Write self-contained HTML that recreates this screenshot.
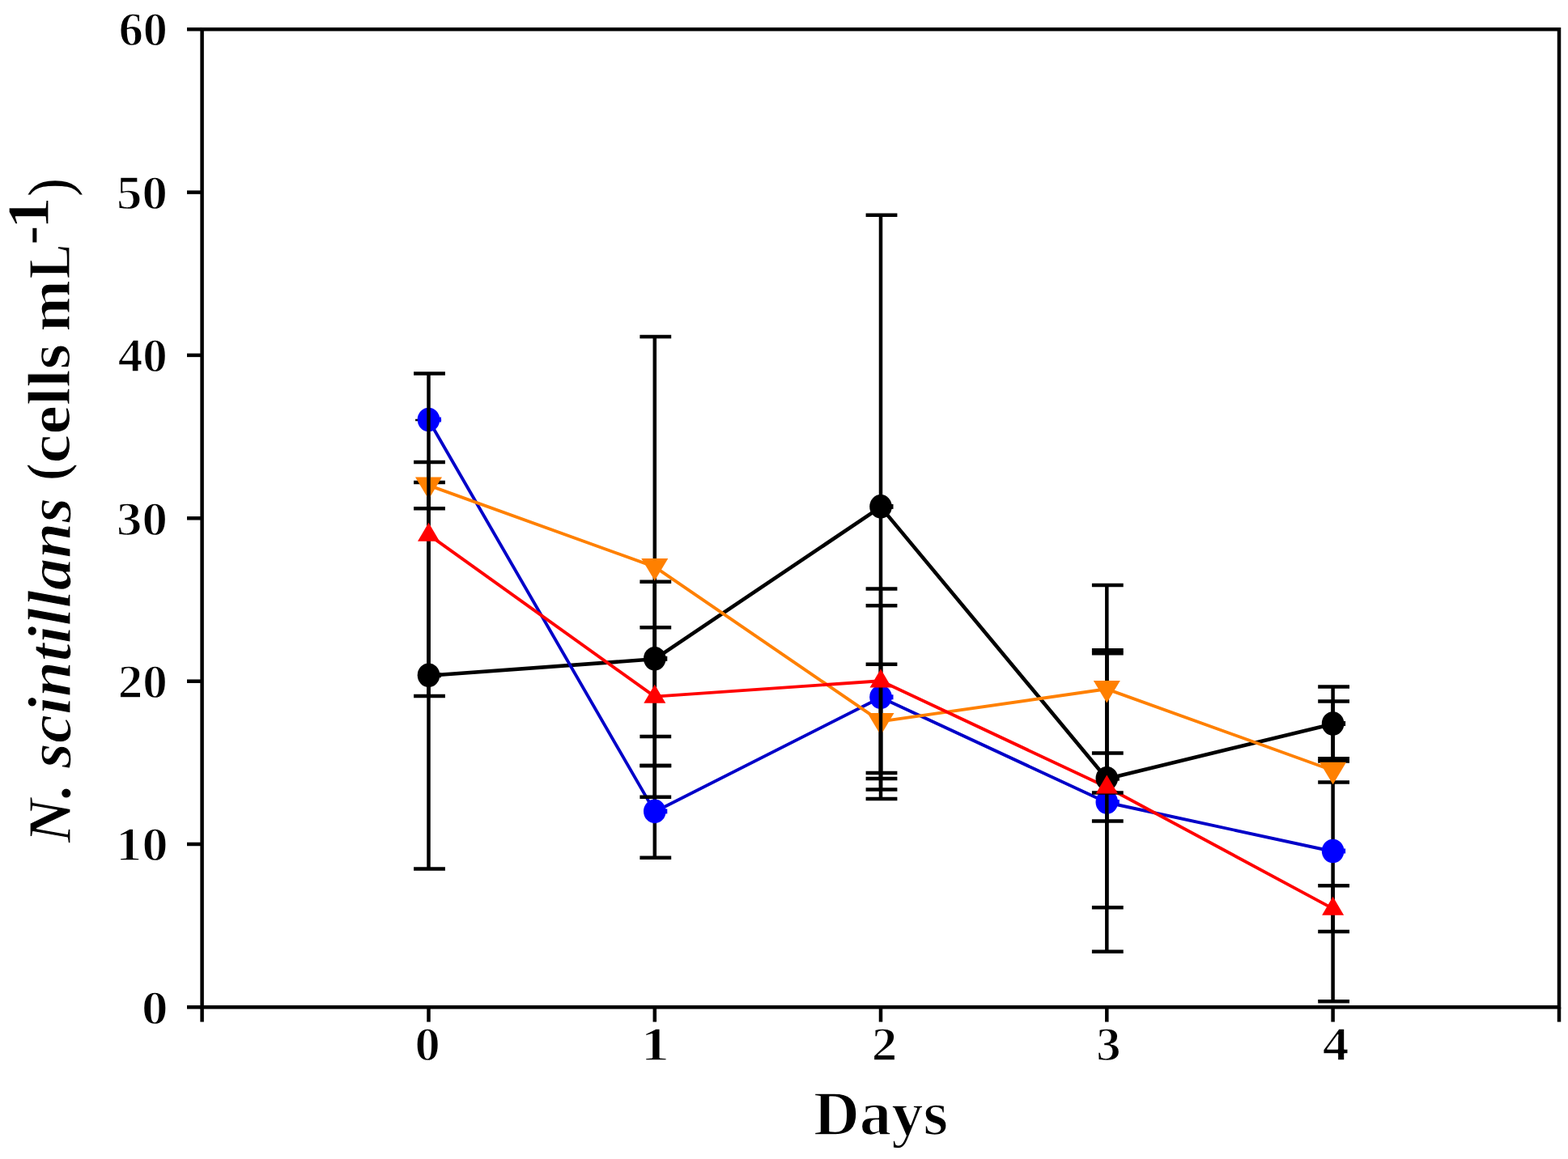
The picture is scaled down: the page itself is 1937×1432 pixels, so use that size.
<!DOCTYPE html>
<html><head><meta charset="utf-8"><title>N. scintillans (cells mL-1) vs Days</title>
<style>
html,body{margin:0;padding:0;background:#fff;overflow:hidden;}
svg{display:block;}
.t text{font-family:"Liberation Serif", "Times New Roman", serif;fill:#000;stroke-linejoin:round;}
</style></head><body>
<svg width="1937" height="1432" viewBox="0 0 1937 1432">
<rect width="1937" height="1432" fill="#fff"/>
<g id="lines">
<polyline points="529.5,834.7 808.8,814.3 1088.0,626.4 1367.3,962.2 1646.6,894.5" fill="none" stroke="#000000" stroke-width="4.6" stroke-linejoin="round"/>
<polyline points="529.5,519.0 808.8,1002.9 1088.0,861.8 1367.3,991.5 1646.6,1052.0" fill="none" stroke="#0000c8" stroke-width="3.9" stroke-linejoin="round"/>
<polyline points="529.5,599.7 808.8,700.4 1088.0,891.4 1367.3,851.3 1646.6,952.0" fill="none" stroke="#ff8000" stroke-width="3.9" stroke-linejoin="round"/>
<polyline points="529.5,660.7 808.8,860.6 1088.0,841.3 1367.3,972.5 1646.6,1122.6" fill="none" stroke="#ff0000" stroke-width="3.9" stroke-linejoin="round"/>
</g><g id="points">
<line x1="529.5" y1="596.0" x2="529.5" y2="1073.4" stroke="#000" stroke-width="4.5"/>
<line x1="511.1" y1="596.0" x2="549.9" y2="596.0" stroke="#000" stroke-width="4.5"/>
<line x1="511.1" y1="1073.4" x2="549.9" y2="1073.4" stroke="#000" stroke-width="4.5"/>
<line x1="808.8" y1="718.7" x2="808.8" y2="909.9" stroke="#000" stroke-width="4.5"/>
<line x1="790.4" y1="718.7" x2="829.2" y2="718.7" stroke="#000" stroke-width="4.5"/>
<line x1="790.4" y1="909.9" x2="829.2" y2="909.9" stroke="#000" stroke-width="4.5"/>
<line x1="1088.0" y1="265.7" x2="1088.0" y2="987.1" stroke="#000" stroke-width="4.5"/>
<line x1="1069.6" y1="265.7" x2="1108.4" y2="265.7" stroke="#000" stroke-width="4.5"/>
<line x1="1069.6" y1="987.1" x2="1108.4" y2="987.1" stroke="#000" stroke-width="4.5"/>
<line x1="1367.3" y1="803.2" x2="1367.3" y2="1121.2" stroke="#000" stroke-width="4.5"/>
<line x1="1348.9" y1="803.2" x2="1387.7" y2="803.2" stroke="#000" stroke-width="4.5"/>
<line x1="1348.9" y1="1121.2" x2="1387.7" y2="1121.2" stroke="#000" stroke-width="4.5"/>
<line x1="1646.6" y1="848.4" x2="1646.6" y2="940.6" stroke="#000" stroke-width="4.5"/>
<line x1="1628.2" y1="848.4" x2="1667.0" y2="848.4" stroke="#000" stroke-width="4.5"/>
<line x1="1628.2" y1="940.6" x2="1667.0" y2="940.6" stroke="#000" stroke-width="4.5"/>
<ellipse cx="529.5" cy="834.2" rx="13.8" ry="14.8" fill="#000000"/>
<rect x="541.5" y="831.2" width="3.5" height="6" fill="#000000"/>
<ellipse cx="808.8" cy="813.8" rx="13.8" ry="14.8" fill="#000000"/>
<rect x="820.8" y="810.8" width="3.5" height="6" fill="#000000"/>
<ellipse cx="1088.0" cy="625.9" rx="13.8" ry="14.8" fill="#000000"/>
<rect x="1100.0" y="622.9" width="3.5" height="6" fill="#000000"/>
<ellipse cx="1367.3" cy="961.7" rx="13.8" ry="14.8" fill="#000000"/>
<rect x="1379.3" y="958.7" width="3.5" height="6" fill="#000000"/>
<ellipse cx="1646.6" cy="894.0" rx="13.8" ry="14.8" fill="#000000"/>
<rect x="1658.6" y="891.0" width="3.5" height="6" fill="#000000"/>
<line x1="513.1" y1="519.0" x2="545.1" y2="519.0" stroke="#000" stroke-width="2.6"/>
<line x1="808.8" y1="946.0" x2="808.8" y2="1059.7" stroke="#000" stroke-width="4.5"/>
<line x1="790.4" y1="946.0" x2="829.2" y2="946.0" stroke="#000" stroke-width="4.5"/>
<line x1="790.4" y1="1059.7" x2="829.2" y2="1059.7" stroke="#000" stroke-width="4.5"/>
<line x1="1088.0" y1="748.2" x2="1088.0" y2="975.4" stroke="#000" stroke-width="4.5"/>
<line x1="1069.6" y1="748.2" x2="1108.4" y2="748.2" stroke="#000" stroke-width="4.5"/>
<line x1="1069.6" y1="975.4" x2="1108.4" y2="975.4" stroke="#000" stroke-width="4.5"/>
<line x1="1367.3" y1="807.3" x2="1367.3" y2="1175.7" stroke="#000" stroke-width="4.5"/>
<line x1="1348.9" y1="807.3" x2="1387.7" y2="807.3" stroke="#000" stroke-width="4.5"/>
<line x1="1348.9" y1="1175.7" x2="1387.7" y2="1175.7" stroke="#000" stroke-width="4.5"/>
<line x1="1646.6" y1="866.6" x2="1646.6" y2="1237.3" stroke="#000" stroke-width="4.5"/>
<line x1="1628.2" y1="866.6" x2="1667.0" y2="866.6" stroke="#000" stroke-width="4.5"/>
<line x1="1628.2" y1="1237.3" x2="1667.0" y2="1237.3" stroke="#000" stroke-width="4.5"/>
<ellipse cx="529.5" cy="518.5" rx="13.8" ry="14.8" fill="#0000ff"/>
<rect x="541.5" y="515.5" width="3.5" height="6" fill="#0000ff"/>
<ellipse cx="808.8" cy="1002.4" rx="13.8" ry="14.8" fill="#0000ff"/>
<rect x="820.8" y="999.4" width="3.5" height="6" fill="#0000ff"/>
<ellipse cx="1088.0" cy="861.3" rx="13.8" ry="14.8" fill="#0000ff"/>
<rect x="1100.0" y="858.3" width="3.5" height="6" fill="#0000ff"/>
<ellipse cx="1367.3" cy="991.0" rx="13.8" ry="14.8" fill="#0000ff"/>
<rect x="1379.3" y="988.0" width="3.5" height="6" fill="#0000ff"/>
<ellipse cx="1646.6" cy="1051.5" rx="13.8" ry="14.8" fill="#0000ff"/>
<rect x="1658.6" y="1048.5" width="3.5" height="6" fill="#0000ff"/>
<line x1="529.5" y1="571.1" x2="529.5" y2="628.3" stroke="#000" stroke-width="4.5"/>
<line x1="511.1" y1="571.1" x2="549.9" y2="571.1" stroke="#000" stroke-width="4.5"/>
<line x1="511.1" y1="628.3" x2="549.9" y2="628.3" stroke="#000" stroke-width="4.5"/>
<line x1="808.8" y1="416.0" x2="808.8" y2="984.7" stroke="#000" stroke-width="4.5"/>
<line x1="790.4" y1="416.0" x2="829.2" y2="416.0" stroke="#000" stroke-width="4.5"/>
<line x1="790.4" y1="984.7" x2="829.2" y2="984.7" stroke="#000" stroke-width="4.5"/>
<line x1="1088.0" y1="820.7" x2="1088.0" y2="962.1" stroke="#000" stroke-width="4.5"/>
<line x1="1069.6" y1="820.7" x2="1108.4" y2="820.7" stroke="#000" stroke-width="4.5"/>
<line x1="1069.6" y1="962.1" x2="1108.4" y2="962.1" stroke="#000" stroke-width="4.5"/>
<line x1="1367.3" y1="723.0" x2="1367.3" y2="979.6" stroke="#000" stroke-width="4.5"/>
<line x1="1348.9" y1="723.0" x2="1387.7" y2="723.0" stroke="#000" stroke-width="4.5"/>
<line x1="1348.9" y1="979.6" x2="1387.7" y2="979.6" stroke="#000" stroke-width="4.5"/>
<line x1="1646.6" y1="937.3" x2="1646.6" y2="966.6" stroke="#000" stroke-width="4.5"/>
<line x1="1628.2" y1="937.3" x2="1667.0" y2="937.3" stroke="#000" stroke-width="4.5"/>
<line x1="1628.2" y1="966.6" x2="1667.0" y2="966.6" stroke="#000" stroke-width="4.5"/>
<polygon points="513.0,589.4 546.0,589.4 529.5,616.9" fill="#ff8000"/>
<polygon points="792.3,690.1 825.3,690.1 808.8,717.6" fill="#ff8000"/>
<polygon points="1071.5,881.1 1104.5,881.1 1088.0,908.6" fill="#ff8000"/>
<polygon points="1350.8,841.0 1383.8,841.0 1367.3,868.5" fill="#ff8000"/>
<polygon points="1630.1,941.7 1663.1,941.7 1646.6,969.2" fill="#ff8000"/>
<line x1="529.5" y1="461.5" x2="529.5" y2="859.9" stroke="#000" stroke-width="4.5"/>
<line x1="511.1" y1="461.5" x2="549.9" y2="461.5" stroke="#000" stroke-width="4.5"/>
<line x1="511.1" y1="859.9" x2="549.9" y2="859.9" stroke="#000" stroke-width="4.5"/>
<line x1="808.8" y1="775.2" x2="808.8" y2="946.0" stroke="#000" stroke-width="4.5"/>
<line x1="790.4" y1="775.2" x2="829.2" y2="775.2" stroke="#000" stroke-width="4.5"/>
<line x1="790.4" y1="946.0" x2="829.2" y2="946.0" stroke="#000" stroke-width="4.5"/>
<line x1="1088.0" y1="727.5" x2="1088.0" y2="955.1" stroke="#000" stroke-width="4.5"/>
<line x1="1069.6" y1="727.5" x2="1108.4" y2="727.5" stroke="#000" stroke-width="4.5"/>
<line x1="1069.6" y1="955.1" x2="1108.4" y2="955.1" stroke="#000" stroke-width="4.5"/>
<line x1="1367.3" y1="930.5" x2="1367.3" y2="1014.6" stroke="#000" stroke-width="4.5"/>
<line x1="1348.9" y1="930.5" x2="1387.7" y2="930.5" stroke="#000" stroke-width="4.5"/>
<line x1="1348.9" y1="1014.6" x2="1387.7" y2="1014.6" stroke="#000" stroke-width="4.5"/>
<line x1="1646.6" y1="1094.2" x2="1646.6" y2="1151.0" stroke="#000" stroke-width="4.5"/>
<line x1="1628.2" y1="1094.2" x2="1667.0" y2="1094.2" stroke="#000" stroke-width="4.5"/>
<line x1="1628.2" y1="1151.0" x2="1667.0" y2="1151.0" stroke="#000" stroke-width="4.5"/>
<polygon points="529.5,645.8 543.0,668.8 516.0,668.8" fill="#ff0000"/>
<polygon points="808.8,845.7 822.3,868.7 795.3,868.7" fill="#ff0000"/>
<polygon points="1088.0,826.4 1101.5,849.4 1074.5,849.4" fill="#ff0000"/>
<polygon points="1367.3,957.6 1380.8,980.6 1353.8,980.6" fill="#ff0000"/>
<polygon points="1646.6,1107.7 1660.1,1130.7 1633.1,1130.7" fill="#ff0000"/>
</g>
<g id="axes">
<rect x="249.6" y="36.2" width="1676.4" height="1208.2" fill="none" stroke="#000" stroke-width="4.5"/>
<line x1="231" y1="1244.4" x2="249.6" y2="1244.4" stroke="#000" stroke-width="4.5"/>
<line x1="231" y1="1043.0" x2="249.6" y2="1043.0" stroke="#000" stroke-width="4.5"/>
<line x1="231" y1="841.7" x2="249.6" y2="841.7" stroke="#000" stroke-width="4.5"/>
<line x1="231" y1="640.3" x2="249.6" y2="640.3" stroke="#000" stroke-width="4.5"/>
<line x1="231" y1="438.9" x2="249.6" y2="438.9" stroke="#000" stroke-width="4.5"/>
<line x1="231" y1="237.6" x2="249.6" y2="237.6" stroke="#000" stroke-width="4.5"/>
<line x1="231" y1="36.2" x2="249.6" y2="36.2" stroke="#000" stroke-width="4.5"/>
<line x1="249.6" y1="1244.4" x2="249.6" y2="1262.6" stroke="#000" stroke-width="4.5"/>
<line x1="529.5" y1="1244.4" x2="529.5" y2="1262.6" stroke="#000" stroke-width="4.5"/>
<line x1="808.8" y1="1244.4" x2="808.8" y2="1262.6" stroke="#000" stroke-width="4.5"/>
<line x1="1088.0" y1="1244.4" x2="1088.0" y2="1262.6" stroke="#000" stroke-width="4.5"/>
<line x1="1367.3" y1="1244.4" x2="1367.3" y2="1262.6" stroke="#000" stroke-width="4.5"/>
<line x1="1646.6" y1="1244.4" x2="1646.6" y2="1262.6" stroke="#000" stroke-width="4.5"/>
<line x1="1926.0" y1="1244.4" x2="1926.0" y2="1262.6" stroke="#000" stroke-width="4.5"/>
</g>
<g id="ticklabels" class="t">
<text x="146.69" y="56.45" font-size="58.97" font-weight="bold" font-style="normal" stroke="#fff" stroke-width="1.3" textLength="60.15" lengthAdjust="spacingAndGlyphs">60</text>
<text x="144.14" y="257.82" font-size="58.97" font-weight="bold" font-style="normal" stroke="#fff" stroke-width="1.3" textLength="62.81" lengthAdjust="spacingAndGlyphs">50</text>
<text x="145.82" y="459.18" font-size="58.97" font-weight="bold" font-style="normal" stroke="#fff" stroke-width="1.3" textLength="61.06" lengthAdjust="spacingAndGlyphs">40</text>
<text x="144.09" y="660.55" font-size="58.97" font-weight="bold" font-style="normal" stroke="#fff" stroke-width="1.3" textLength="62.86" lengthAdjust="spacingAndGlyphs">30</text>
<text x="145.78" y="861.92" font-size="58.97" font-weight="bold" font-style="normal" stroke="#fff" stroke-width="1.3" textLength="61.09" lengthAdjust="spacingAndGlyphs">20</text>
<text x="143.31" y="1063.28" font-size="58.97" font-weight="bold" font-style="normal" stroke="#fff" stroke-width="1.3" textLength="64.18" lengthAdjust="spacingAndGlyphs">10</text>
<text x="174.97" y="1264.65" font-size="58.97" font-weight="bold" font-style="normal" stroke="#fff" stroke-width="1.3" textLength="32.56" lengthAdjust="spacingAndGlyphs">0</text>
<text x="512.57" y="1310.15" font-size="58.97" font-weight="bold" font-style="normal" stroke="#fff" stroke-width="1.3" textLength="31.26" lengthAdjust="spacingAndGlyphs">0</text>
<text x="791.69" y="1310.15" font-size="58.97" font-weight="bold" font-style="normal" stroke="#fff" stroke-width="1.3" textLength="35.31" lengthAdjust="spacingAndGlyphs">1</text>
<text x="1076.70" y="1310.15" font-size="58.97" font-weight="bold" font-style="normal" stroke="#fff" stroke-width="1.3" textLength="31.56" lengthAdjust="spacingAndGlyphs">2</text>
<text x="1354.17" y="1310.15" font-size="58.97" font-weight="bold" font-style="normal" stroke="#fff" stroke-width="1.3" textLength="30.36" lengthAdjust="spacingAndGlyphs">3</text>
<text x="1633.66" y="1310.15" font-size="58.97" font-weight="bold" font-style="normal" stroke="#fff" stroke-width="1.3" textLength="32.71" lengthAdjust="spacingAndGlyphs">4</text>
</g>
<g id="labels" class="t">
<text x="1004.92" y="1401.80" font-size="78.42" font-weight="bold" font-style="normal" stroke="#fff" stroke-width="1.6" textLength="166.31" lengthAdjust="spacingAndGlyphs">Days</text>
<text transform="translate(87.20,1041.30) rotate(-90)" x="0" y="0" font-size="76.82" font-weight="bold" font-style="italic" stroke="#fff" stroke-width="1.2" textLength="73.60" lengthAdjust="spacingAndGlyphs">N.</text>
<text transform="translate(87.20,948.88) rotate(-90)" x="0" y="0" font-size="76.82" font-weight="bold" font-style="italic" stroke="#fff" stroke-width="1.2" textLength="333.81" lengthAdjust="spacingAndGlyphs">scintillans</text>
<text transform="translate(80.80,594.33) rotate(-90)" x="0" y="0" font-size="69.32" font-weight="bold" font-style="normal" stroke="#fff" stroke-width="1.2" textLength="22.17" lengthAdjust="spacingAndGlyphs">(</text>
<text transform="translate(86.40,572.45) rotate(-90)" x="0" y="0" font-size="74.82" font-weight="bold" font-style="normal" stroke="#fff" stroke-width="1.2" textLength="147.41" lengthAdjust="spacingAndGlyphs">cells</text>
<text transform="translate(86.40,409.85) rotate(-90)" x="0" y="0" font-size="74.82" font-weight="bold" font-style="normal" stroke="#fff" stroke-width="1.2" textLength="63.55" lengthAdjust="spacingAndGlyphs">m</text>
<text transform="translate(86.40,344.19) rotate(-90)" x="0" y="0" font-size="74.82" font-weight="bold" font-style="normal" stroke="#fff" stroke-width="1.2" textLength="42.35" lengthAdjust="spacingAndGlyphs">L</text>
<text transform="translate(59.70,302.78) rotate(-90)" x="0" y="0" font-size="74.82" font-weight="bold" font-style="normal" stroke="#fff" stroke-width="1.2" textLength="24.36" lengthAdjust="spacingAndGlyphs">-</text>
<text transform="translate(59.70,283.29) rotate(-90)" x="0" y="0" font-size="74.82" font-weight="bold" font-style="normal" stroke="#fff" stroke-width="1.2" textLength="39.93" lengthAdjust="spacingAndGlyphs">1</text>
<text transform="translate(86.30,242.87) rotate(-90)" x="0" y="0" font-size="73.00" font-weight="normal" font-style="normal" stroke="#fff" stroke-width="0.0" textLength="22.43" lengthAdjust="spacingAndGlyphs">)</text>
</g>
</svg>
</body></html>
